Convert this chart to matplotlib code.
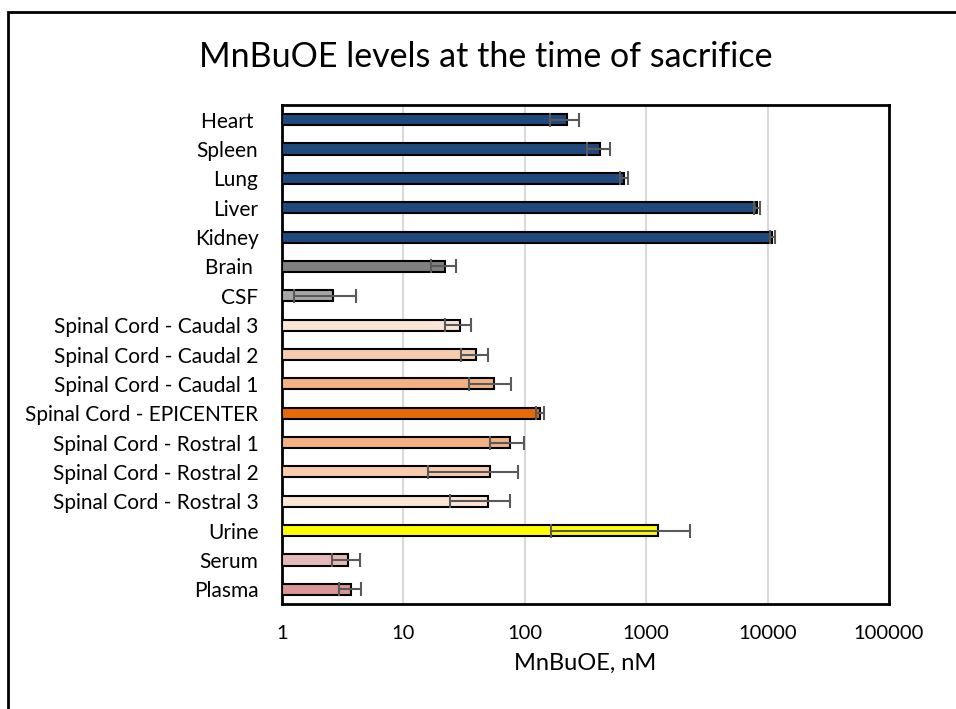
import matplotlib.pyplot as plt
from matplotlib.patches import Rectangle

# Tissue levels, listed top to bottom
tissues = ["Heart ", "Spleen", "Lung", "Liver", "Kidney", "Brain ", "CSF",
           "Spinal Cord - Caudal 3", "Spinal Cord - Caudal 2", "Spinal Cord - Caudal 1",
           "Spinal Cord - EPICENTER", "Spinal Cord - Rostral 1", "Spinal Cord - Rostral 2",
           "Spinal Cord - Rostral 3", "Urine", "Serum", "Plasma"]
means = [222, 415, 660, 8200, 10900, 22, 2.65,
         29, 40, 56, 134, 75, 52, 50, 1240, 3.5, 3.7]
errors = [60, 90, 50, 500, 500, 5, 1.4,
          7, 10, 21, 11, 23, 36, 26, 1075, 0.9, 0.75]
colors = ["#1F497D"] * 5 + ["#808080", "#A6A6A6",
          "#FBE5D6", "#F8CBAD", "#F4B183", "#E36C09", "#F4B183", "#F8CBAD", "#FBE5D6",
          "#FFFF00", "#E6B9B8", "#D99694"]

plt.rcParams['font.family'] = ['Lato', 'DejaVu Sans']

fig = plt.figure(figsize=(9.56, 7.09), dpi=100)
ax = fig.add_axes([282 / 956, 1 - 604 / 709, (889 - 282) / 956, (604 - 105) / 709])

pos = list(range(len(tissues)))
# bars start at the axis origin (1 on the log scale)
widths = [m - 1 for m in means]
ax.barh(pos, widths, height=0.38, left=1, color=colors, edgecolor="black", linewidth=1.5, zorder=3)
ax.errorbar(means, pos, xerr=errors, fmt="none", ecolor="#595959", elinewidth=1.5,
            capsize=5, capthick=1.5, zorder=4)

ax.set_xscale("log")
ax.set_xlim(1, 100000)
ax.set_ylim(len(tissues) - 0.5, -0.5)
ax.set_yticks(pos)
ax.set_yticklabels(tissues, fontsize=15)
ax.set_xticks([1, 10, 100, 1000, 10000, 100000])
ax.set_xticklabels(["1", "10", "100", "1000", "10000", "100000"], fontsize=14.5)
ax.minorticks_off()
ax.tick_params(axis="x", length=0, pad=15)
ax.tick_params(axis="y", length=0, pad=17)
ax.grid(axis="x", color="#D9D9D9", linewidth=1.5, zorder=0)
for s in ax.spines.values():
    s.set_linewidth(2)
    s.set_color("black")

ax.set_xlabel("MnBuOE, nM", fontsize=17, labelpad=8)
fig.text(486 / 956, 1 - 57 / 709, "MnBuOE levels at the time of sacrifice",
         ha="center", va="center", fontsize=24.5)

# outer chart frame
fig.patches.append(Rectangle((7.5 / 956, -0.1), 1.2, 1 - 12 / 709 + 0.1,
                             transform=fig.transFigure, fill=False,
                             edgecolor="black", linewidth=2))

fig.savefig("out.png", dpi=100)
